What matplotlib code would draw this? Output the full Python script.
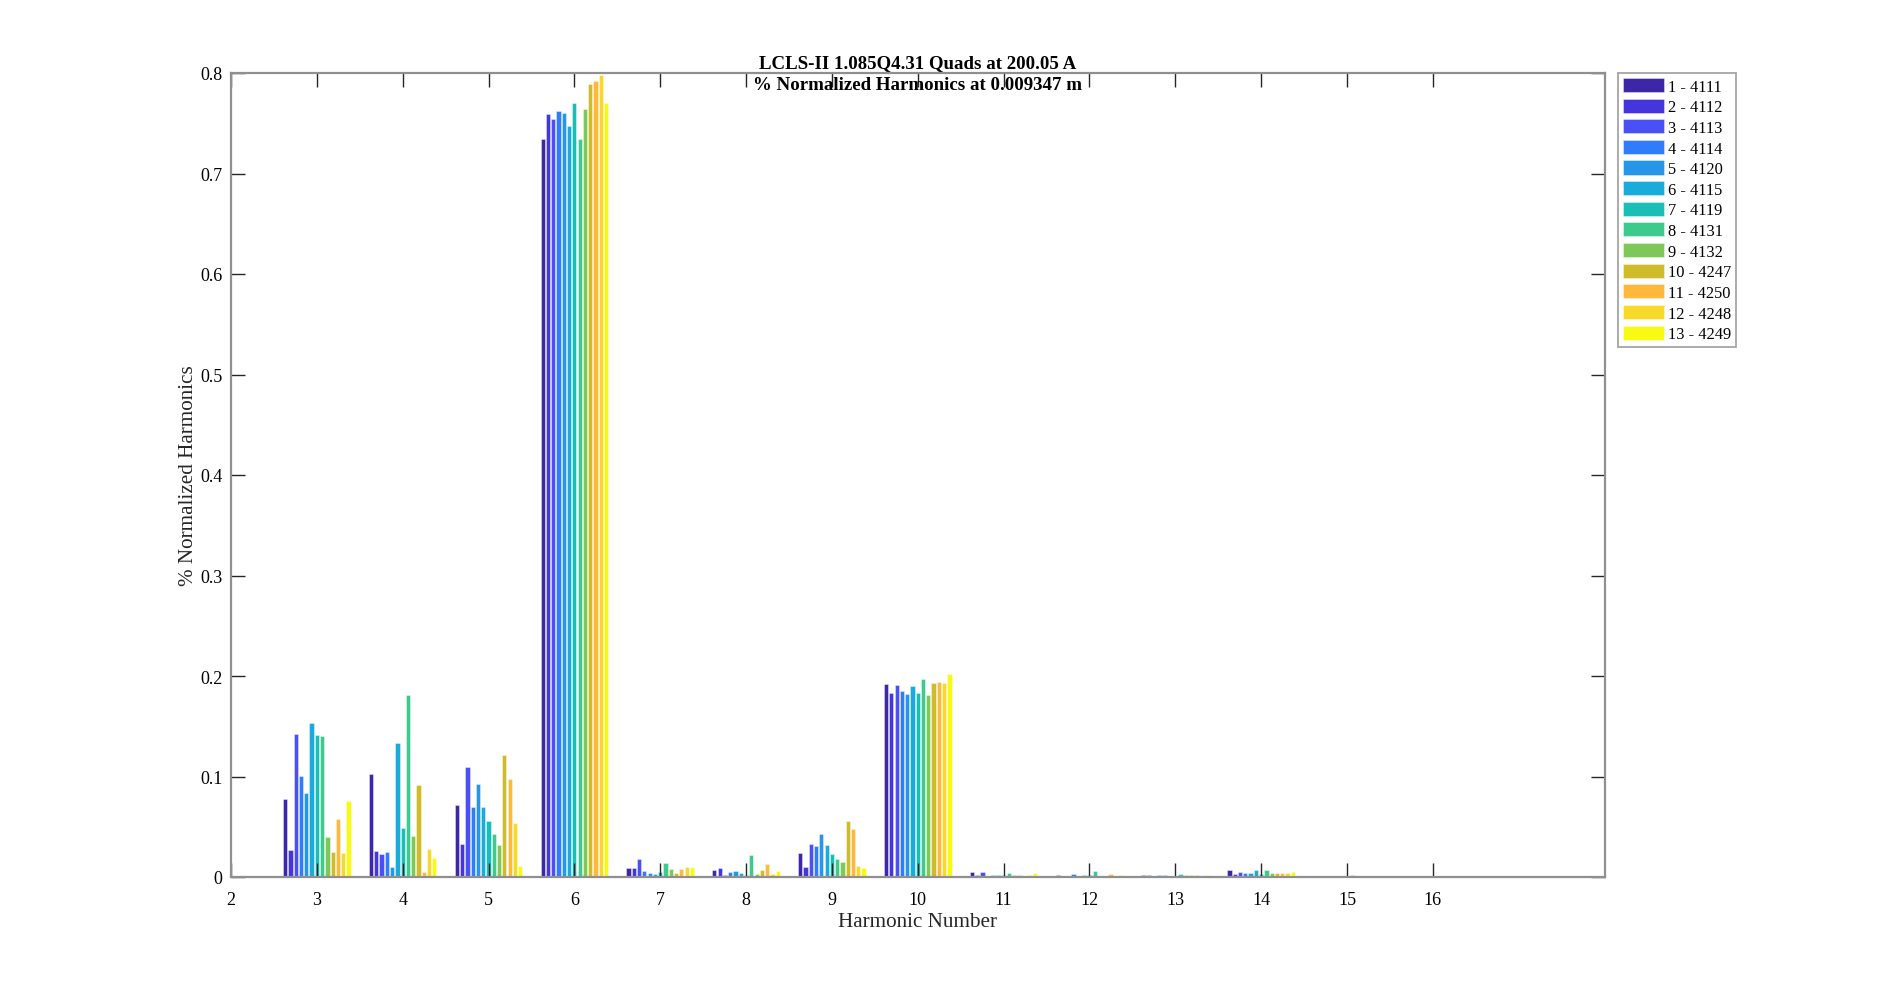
import matplotlib
matplotlib.use("Agg")
import matplotlib.pyplot as plt
import numpy as np

harmonics = [3, 4, 5, 6, 7, 8, 9, 10, 11, 12, 13, 14, 15, 16]
series_labels = ["1 - 4111", "2 - 4112", "3 - 4113", "4 - 4114", "5 - 4120", "6 - 4115",
                 "7 - 4119", "8 - 4131", "9 - 4132", "10 - 4247", "11 - 4250", "12 - 4248", "13 - 4249"]
colors = ["#3e26a8", "#4436dc", "#4a50f5", "#2f7dfd", "#2596e8", "#19abdb", "#19bfb7",
          "#3dca8c", "#7ec857", "#d0bc2a", "#feb93c", "#f7da29", "#f9fa14"]

h3 = [0.0773, 0.0272, 0.1420, 0.1002, 0.0833, 0.1536, 0.1410, 0.1407, 0.0402, 0.0246, 0.0574, 0.0239, 0.0753]
h4 = [0.1029, 0.0263, 0.0229, 0.0253, 0.0103, 0.1330, 0.0491, 0.1810, 0.0405, 0.0912, 0.0047, 0.0282, 0.0193]
h5 = [0.0720, 0.0328, 0.1090, 0.0693, 0.0922, 0.0693, 0.0561, 0.0432, 0.0315, 0.1218, 0.0972, 0.0541, 0.0113]
h6 = [0.7347, 0.7590, 0.7546, 0.7626, 0.7599, 0.7470, 0.7698, 0.7347, 0.7646, 0.7888, 0.7920, 0.7984, 0.7698]
h7 = [0.0087, 0.0093, 0.0183, 0.0057, 0.0040, 0.0034, 0.0047, 0.0137, 0.0077, 0.0040, 0.0083, 0.0103, 0.0097]
h8 = [0.0070, 0.0090, 0.0017, 0.0050, 0.0063, 0.0037, 0.0020, 0.0216, 0.0027, 0.0067, 0.0127, 0.0027, 0.0057]
h9 = [0.0236, 0.0103, 0.0325, 0.0312, 0.0425, 0.0322, 0.0229, 0.0176, 0.0146, 0.0561, 0.0475, 0.0113, 0.0087]
h10 = [0.1924, 0.1835, 0.1914, 0.1848, 0.1825, 0.1897, 0.1835, 0.1967, 0.1808, 0.1927, 0.1940, 0.1934, 0.2017]
h11 = [0.0050, 0.0017, 0.0050, 0.0010, 0.0023, 0.0023, 0.0017, 0.0037, 0.0023, 0.0023, 0.0013, 0.0023, 0.0040]
h12 = [0.0017, 0.0003, 0.0003, 0.0027, 0.0003, 0.0017, 0.0017, 0.0057, 0.0007, 0.0007, 0.0027, 0.0003, 0.0017]
h13 = [0.0017, 0.0017, 0.0003, 0.0017, 0.0017, 0.0010, 0.0007, 0.0030, 0.0017, 0.0017, 0.0023, 0.0010, 0.0017]
h14 = [0.0070, 0.0033, 0.0046, 0.0040, 0.0037, 0.0067, 0.0030, 0.0073, 0.0037, 0.0037, 0.0037, 0.0037, 0.0050]
h15 = [0.0007, 0.0007, 0.0007, 0.0003, 0.0007, 0.0007, 0.0003, 0.0017, 0.0007, 0.0003, 0.0007, 0.0007, 0.0007]
h16 = [0.0005, 0.0005, 0.0005, 0.0003, 0.0005, 0.0005, 0.0003, 0.0008, 0.0005, 0.0003, 0.0005, 0.0005, 0.0005]

data = np.array([h3, h4, h5, h6, h7, h8, h9, h10, h11, h12, h13, h14, h15, h16])  # (harmonic, series)

plt.rcParams['font.family'] = ['Liberation Serif', 'DejaVu Serif']

fig = plt.figure(figsize=(19.04, 9.87), dpi=100)
ax = fig.add_axes([231 / 1904, 1 - 878 / 987, (1604.5 - 231) / 1904, (878 - 74) / 987])

n = len(series_labels)
group_width = 0.8
step = group_width / n
bar_w = step * 0.8
x = np.array(harmonics, dtype=float)
for i in range(n):
    offs = -group_width / 2 + step * (i + 0.5)
    ax.bar(x + offs, data[:, i], width=bar_w, color=colors[i], label=series_labels[i],
           edgecolor=(1, 1, 1, 0.45), linewidth=0.6)

ax.set_xlim(2, 18)
ax.set_ylim(0, 0.8)
ax.set_xticks(range(2, 17))
ax.set_yticks(np.arange(0, 0.81, 0.1))
ax.set_yticklabels(["0", "0.1", "0.2", "0.3", "0.4", "0.5", "0.6", "0.7", "0.8"])
ax.tick_params(direction='in', length=10, width=1.0, color='#262626', labelsize=13,
               top=True, right=True)
ax.tick_params(axis='x', pad=10)
ax.tick_params(axis='y', pad=6)
for sp in ax.spines.values():
    sp.set_color('#8f8f8f')
    sp.set_linewidth(1.6)

ax.set_xlabel("Harmonic Number", fontsize=15.2, color='#262626', labelpad=3)
ax.set_ylabel("% Normalized Harmonics", fontsize=15.2, color='#262626', labelpad=2)

cx = (231 + 1604.5) / 2 / 1904
fig.text(cx, 1 - 64 / 987, "LCLS-II 1.085Q4.31 Quads at 200.05 A", ha='center', va='center',
         fontsize=13.6, fontweight='bold')
fig.text(cx, 1 - 86 / 987, "% Normalized Harmonics at 0.009347 m", ha='center', va='center',
         fontsize=13.6, fontweight='bold')

leg = ax.legend(loc='upper left', bbox_to_anchor=(1618 / 1904, 1 - 74 / 987),
                bbox_transform=fig.transFigure, fontsize=11.8, frameon=True, fancybox=False,
                handlelength=2.5, handleheight=0.95, handletextpad=0.25, labelspacing=0.24,
                borderpad=0.3, borderaxespad=0, edgecolor='#8f8f8f')
leg.get_frame().set_linewidth(1.3)

fig.savefig("out.png", dpi=100, facecolor='white')
